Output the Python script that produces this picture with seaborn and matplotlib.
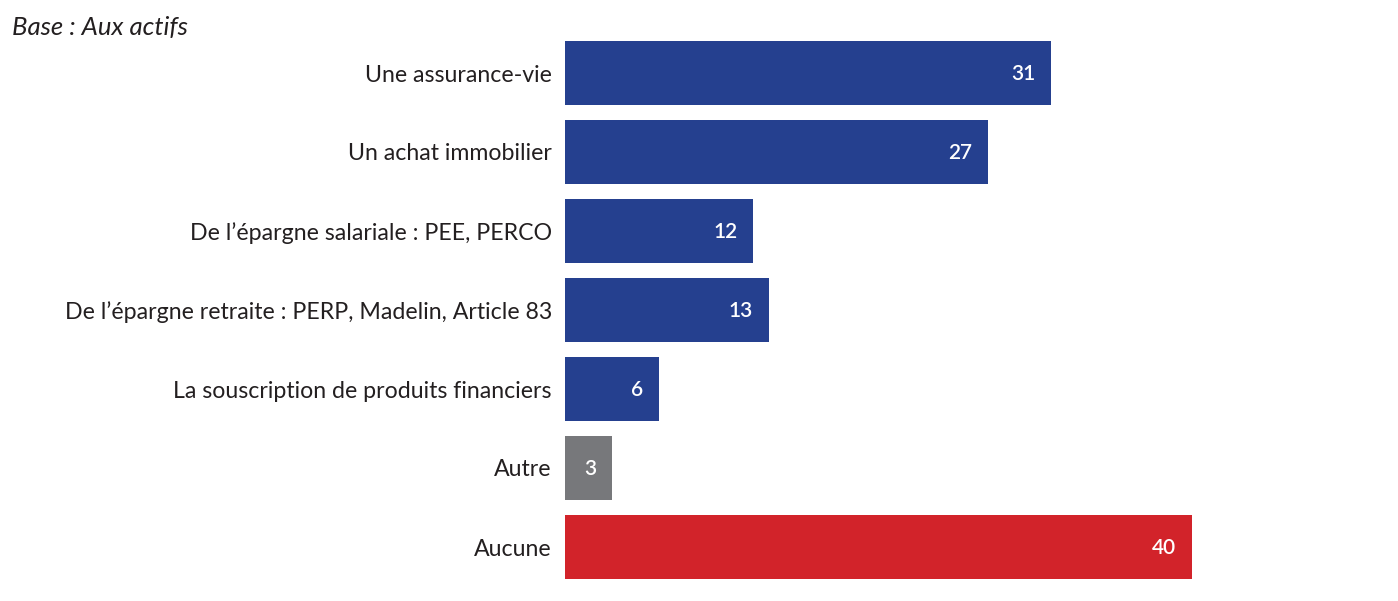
import matplotlib
matplotlib.use("Agg")
import matplotlib.pyplot as plt
import seaborn as sns
import pandas as pd

categories = [
    "Une assurance-vie",
    "Un achat immobilier",
    "De l\u2019épargne salariale : PEE, PERCO",
    "De l\u2019épargne retraite : PERP, Madelin, Article 83",
    "La souscription de produits financiers",
    "Autre",
    "Aucune",
]
values = [31, 27, 12, 13, 6, 3, 40]
bar_colors = ["#25408F", "#25408F", "#25408F", "#25408F", "#25408F", "#77787B", "#D2232A"]
subtitle = "Base : Aux actifs"

sns.set_theme(style="white")
plt.rcParams["font.family"] = ["Lato", "DejaVu Sans"]

df = pd.DataFrame({"cat": categories, "val": values})

fig = plt.figure(figsize=(13.98, 6.01), dpi=100)
ax = fig.add_axes([565 / 1398, 14.5 / 601, (1392 - 565) / 1398, 553 / 601])

sns.barplot(data=df, x="val", y="cat", hue="cat", palette=bar_colors,
            legend=False, width=0.81, saturation=1, ax=ax, orient="h",
            linewidth=0, edgecolor="none")

ax.set_xlim(0, 827 / 15.68)
ax.set_ylim(6.5, -0.5)
ax.set_xlabel("")
ax.set_ylabel("")
ax.set_xticks([])
for s in ax.spines.values():
    s.set_visible(False)
ax.tick_params(axis="y", length=0, pad=9.5, labelsize=16.7, labelcolor="#231F20")

for cont in ax.containers:
    for bar in cont:
        w = bar.get_width()
        y = bar.get_y() + bar.get_height() / 2
        ax.annotate(f"{int(round(w))}", xy=(w, y), xytext=(-11.5, -1),
                    textcoords="offset points", ha="right", va="center",
                    color="white", fontsize=15, fontweight="semibold")

fig.text(12 / 1398, 1 - 28 / 601, subtitle, ha="left", va="center",
         fontsize=18.5, fontstyle="italic", color="#231F20")

fig.savefig("out.png", dpi=100)
